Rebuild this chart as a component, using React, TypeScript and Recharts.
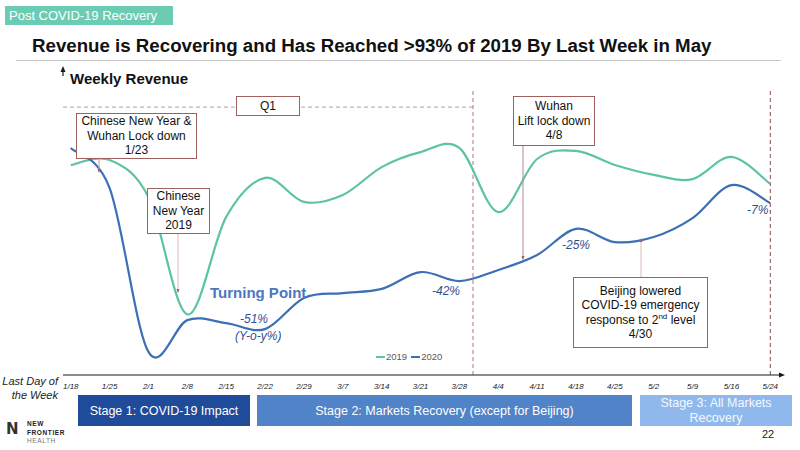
import React from 'react';
import { LineChart, Line, XAxis, YAxis, ReferenceLine, Legend } from 'recharts';

// Week ending dates (x categories)
const weeks = ['1/18', '1/25', '2/1', '2/8', '2/15', '2/22', '2/29', '3/7', '3/14', '3/21', '3/28', '4/4', '4/11', '4/18', '4/25', '5/2', '5/9', '5/16', '5/24'];
// Weekly revenue index
const rev2019 = [70, 71.7, 59.3, 20.2, 52.7, 65.7, 57.7, 60, 69.3, 74.3, 75.7, 54.3, 72, 74.7, 70, 66.7, 65.3, 72.7, 63.7];
const rev2020 = [75.7, 62.3, 7.7, 18.3, 17.3, 15.3, 25.7, 27.3, 28.7, 34.3, 31.3, 35, 40, 48.7, 44.3, 46, 52.3, 63.3, 57.3];

// Markers
const q1EndIdx = 10.35;
const lastIdx = 18;
const q1LevelY = 89.3;
const dividerTopY = 95.7;

const data = weeks.map((w, i) => ({ idx: i, week: w, y2019: rev2019[i], y2020: rev2020[i] }));

const FONT = "'Liberation Sans', Arial, sans-serif";
const TEAL = '#5cc3a6';
const BLUE = '#3d6fb6';
const BOX = '#a0605c';
const LBL = '#2f4f93';

// Excel-like smoothing (Catmull-Rom, tension 0)
function excelCurve(context: any) {
  let pts: number[][] = [];
  return {
    areaStart() {},
    areaEnd() {},
    lineStart() { pts = []; },
    point(x: number, y: number) { pts.push([+x, +y]); },
    lineEnd() {
      if (!pts.length) return;
      context.moveTo(pts[0][0], pts[0][1]);
      for (let i = 0; i < pts.length - 1; i++) {
        const p0 = pts[i - 1] || pts[i];
        const p1 = pts[i];
        const p2 = pts[i + 1];
        const p3 = pts[i + 2] || p2;
        context.bezierCurveTo(
          p1[0] + (p2[0] - p0[0]) / 6, p1[1] + (p2[1] - p0[1]) / 6,
          p2[0] - (p3[0] - p1[0]) / 6, p2[1] - (p3[1] - p1[1]) / 6,
          p2[0], p2[1]
        );
      }
    },
  };
}

const boxStyle = (left: number, top: number, width: number, height: number): React.CSSProperties => ({
  position: 'absolute', left, top, width, height, boxSizing: 'border-box',
  border: `1.3px solid ${BOX}`, background: '#fff', fontSize: 12, lineHeight: '14.5px',
  textAlign: 'center', color: '#111', display: 'flex', flexDirection: 'column', justifyContent: 'center',
});

const txt = (left: number, top: number, extra: React.CSSProperties = {}): React.CSSProperties => ({
  position: 'absolute', left, top, whiteSpace: 'nowrap', ...extra,
});

const LegendContent = (props: any) => {
  const items = props.payload || [];
  return (
    <div style={{ display: 'flex', alignItems: 'center', fontSize: 9.5, color: '#595959', fontFamily: FONT }}>
      {items.map((it: any, i: number) => (
        <span key={i} style={{ display: 'inline-flex', alignItems: 'center', marginRight: 4 }}>
          <span style={{ display: 'inline-block', width: 9, height: 2, background: it.color, marginRight: 1 }} />
          {it.value}
        </span>
      ))}
    </div>
  );
};

export default function App() {
  return (
    <div style={{ position: 'absolute', left: 0, top: 0, width: 800, height: 450, background: '#fff', fontFamily: FONT, overflow: 'hidden' }}>
      <LineChart width={800} height={450} data={data} margin={{ top: 75, right: 20, bottom: 33, left: 63 }}>
        <XAxis
          dataKey="idx" type="number" domain={[-0.2, 18.25]} allowDataOverflow
          ticks={weeks.map((_, i) => i)} interval={0}
          tickFormatter={(v: number) => weeks[v]}
          tickLine={false} axisLine={{ stroke: '#1a1a1a', strokeWidth: 1.2 }}
          tick={{ fontSize: 8, fontStyle: 'italic', fill: '#222', fontFamily: FONT }}
          height={30}
        />
        <YAxis domain={[0, 100]} width={0} tick={false} tickLine={false} axisLine={{ stroke: '#1a1a2a', strokeWidth: 1.2 }} />
        <ReferenceLine segment={[{ x: -0.2, y: q1LevelY }, { x: q1EndIdx, y: q1LevelY }]} stroke="#c49a98" strokeDasharray="4 3" strokeWidth={1} ifOverflow="visible" />
        <ReferenceLine segment={[{ x: q1EndIdx, y: 0 }, { x: q1EndIdx, y: dividerTopY }]} stroke="#b07a78" strokeDasharray="4 3" strokeWidth={1} ifOverflow="visible" />
        <ReferenceLine segment={[{ x: lastIdx, y: 0 }, { x: lastIdx, y: dividerTopY }]} stroke="#8a4a48" strokeDasharray="4 3" strokeWidth={1} ifOverflow="visible" />
        <Line dataKey="y2019" name="2019" stroke={TEAL} strokeWidth={2.2} dot={false} type={excelCurve as any} isAnimationActive={false} />
        <Line dataKey="y2020" name="2020" stroke={BLUE} strokeWidth={2.2} dot={false} type={excelCurve as any} isAnimationActive={false} />
        <Legend content={<LegendContent />} wrapperStyle={{ position: 'absolute', left: 376, top: 351, width: 90, height: 12 }} />
      </LineChart>

      {/* overlay graphics: arrows and connectors */}
      <svg width={800} height={450} style={{ position: 'absolute', left: 0, top: 0, pointerEvents: 'none' }}>
        <line x1={16} y1={60.5} x2={781} y2={60.5} stroke="#c8c8c8" strokeWidth={1} />
        <line x1={63} y1={70} x2={63} y2={76} stroke="#1a1a2a" strokeWidth={1.2} />
        <path d="M60.5,72 L63,66 L65.5,72 Z" fill="#1a1a2a" />
        <path d="M779,372.5 L785,375 L779,377.5 Z" fill="#1a1a1a" />
        <line x1={99} y1={159} x2={99} y2={172} stroke="#c9a3a1" strokeWidth={1} />
        <path d="M97.5,169 L99,173 L100.5,169 Z" fill="#a0605c" />
        <line x1={178} y1={234} x2={178} y2={292} stroke="#d9bcbb" strokeWidth={1} />
        <path d="M176.5,289 L178,293 L179.5,289 Z" fill="#a0605c" />
        <line x1={523} y1={146} x2={523} y2={259} stroke="#b68886" strokeWidth={1} />
        <path d="M521.5,256 L523,260 L524.5,256 Z" fill="#a0605c" />
        <line x1={641} y1={277} x2={641} y2={239} stroke="#d9bcbb" strokeWidth={1} />
        <path d="M639.5,242 L641,238 L642.5,242 Z" fill="#a0605c" />
      </svg>

      {/* header tag */}
      <div style={{ position: 'absolute', left: 5, top: 6, width: 168, height: 19, background: '#6ccbb3', color: '#fff', fontSize: 13, lineHeight: '19px', paddingLeft: 4, boxSizing: 'border-box' }}>
        Post COVID-19 Recovery
      </div>
      <div style={txt(32, 35, { fontSize: 18.7, fontWeight: 'bold', color: '#111' })}>
        Revenue is Recovering and Has Reached &gt;93% of 2019 By Last Week in May
      </div>
      <div style={txt(70, 70, { fontSize: 15, fontWeight: 'bold', color: '#111' })}>Weekly Revenue</div>

      {/* annotation boxes */}
      <div style={boxStyle(236, 96, 64, 20)}>Q1</div>
      <div style={boxStyle(76, 113, 121, 46)}>
        <div>Chinese New Year &amp;</div><div>Wuhan Lock down</div><div>1/23</div>
      </div>
      <div style={boxStyle(147, 188, 63, 46)}>
        <div>Chinese</div><div>New Year</div><div>2019</div>
      </div>
      <div style={boxStyle(513, 96, 82, 50)}>
        <div>Wuhan</div><div>Lift lock down</div><div>4/8</div>
      </div>
      <div style={boxStyle(573, 277, 135, 71)}>
        <div>Beijing lowered</div><div>COVID-19 emergency</div>
        <div>response to 2<sup style={{ fontSize: 8, lineHeight: 0 }}>nd</sup> level</div><div>4/30</div>
      </div>

      {/* labels */}
      <div style={txt(210, 284, { fontSize: 15, fontWeight: 'bold', color: '#4a76c2' })}>Turning Point</div>
      <div style={txt(240, 312, { fontSize: 12, fontStyle: 'italic', color: LBL })}>-51%</div>
      <div style={txt(235, 329, { fontSize: 12, fontStyle: 'italic', color: LBL })}>(Y-o-y%)</div>
      <div style={txt(432, 284, { fontSize: 12, fontStyle: 'italic', color: LBL })}>-42%</div>
      <div style={txt(562, 238, { fontSize: 12, fontStyle: 'italic', color: LBL })}>-25%</div>
      <div style={txt(747, 203, { fontSize: 12, fontStyle: 'italic', color: LBL })}>-7%</div>

      <div style={txt(0, 374, { width: 58, fontSize: 11, fontStyle: 'italic', color: '#222', textAlign: 'right', lineHeight: '14px' })}>
        Last Day of<br />the Week
      </div>

      {/* stages */}
      <div style={{ position: 'absolute', left: 78, top: 395, width: 172, height: 31, background: '#1f4b9a', color: '#fff', fontSize: 12.5, display: 'flex', alignItems: 'center', justifyContent: 'center' }}>
        Stage 1: COVID-19 Impact
      </div>
      <div style={{ position: 'absolute', left: 257, top: 395, width: 375, height: 31, background: '#5083c7', color: '#fff', fontSize: 12.5, display: 'flex', alignItems: 'center', justifyContent: 'center' }}>
        Stage 2: Markets Recovery (except for Beijing)
      </div>
      <div style={{ position: 'absolute', left: 640, top: 395, width: 152, height: 31, background: '#8fb8ec', color: '#f4f8ff', fontSize: 12.5, lineHeight: '15px', display: 'flex', flexDirection: 'column', alignItems: 'center', justifyContent: 'center', textAlign: 'center' }}>
        <div>Stage 3: All Markets</div><div>Recovery</div>
      </div>

      {/* logo */}
      <div style={txt(6, 423, { fontSize: 15, fontWeight: 'bold', color: '#333', lineHeight: '13px', fontFamily: 'DejaVu Sans' })}>N</div>
      <div style={txt(27, 420, { fontSize: 6.5, fontWeight: 'bold', color: '#222', lineHeight: '8.5px', letterSpacing: 0.6 })}>
        NEW<br />FRONTIER<br /><span style={{ fontWeight: 'normal', color: '#777' }}>HEALTH</span>
      </div>
      <div style={txt(762, 428, { fontSize: 11, color: '#222' })}>22</div>
    </div>
  );
}
